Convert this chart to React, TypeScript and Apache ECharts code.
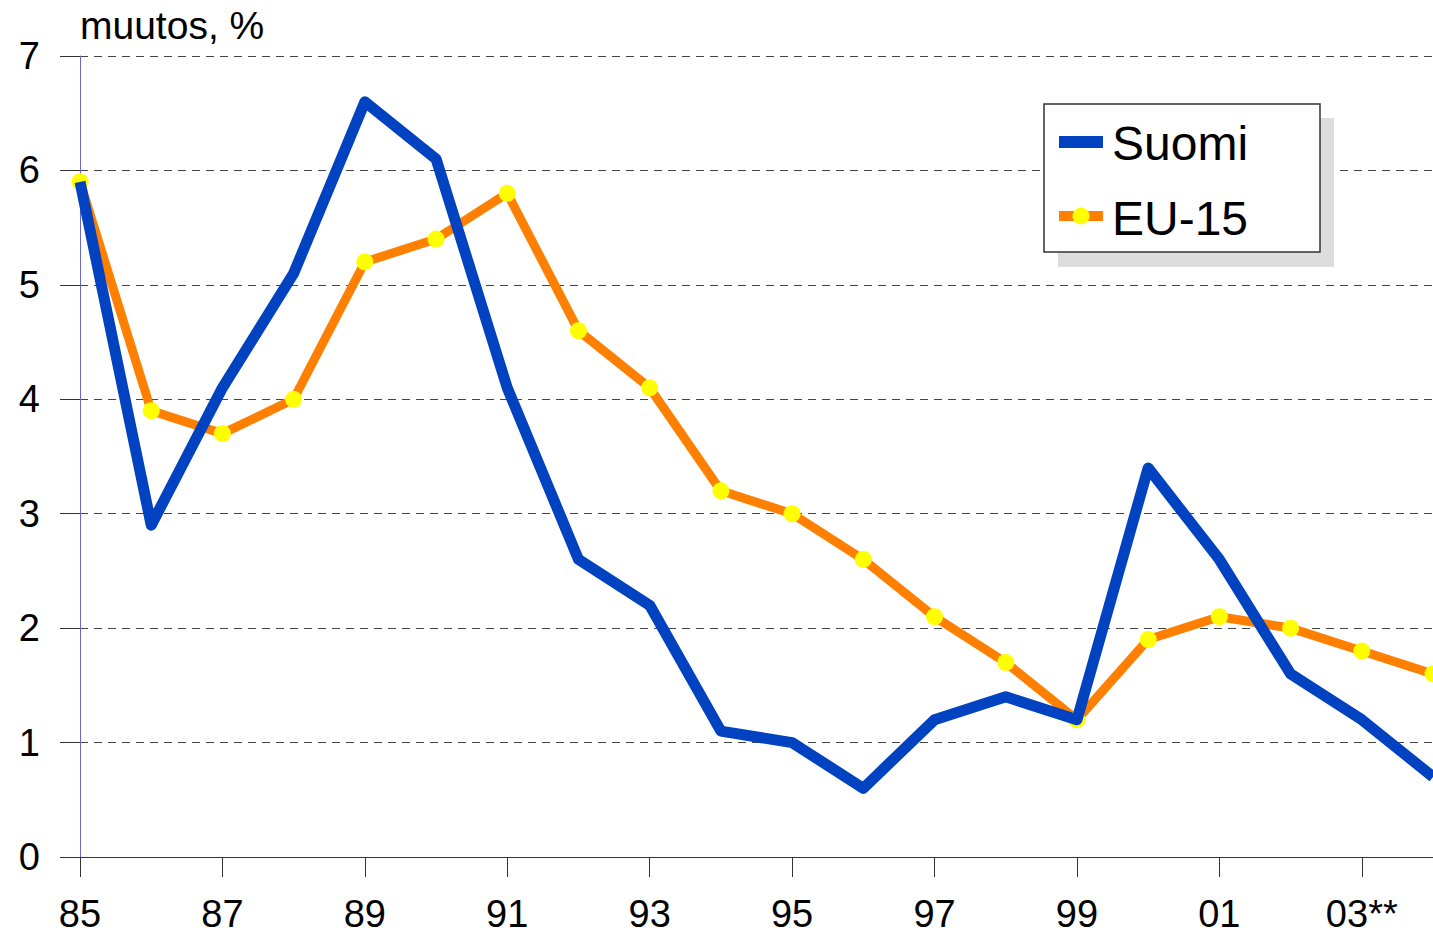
import React, { useEffect, useRef } from "react";
import * as echarts from "echarts";

const years = ["85", "86", "87", "88", "89", "90", "91", "92", "93", "94", "95", "96", "97", "98", "99", "00", "01", "02", "03**", "04"];
const suomi = [5.9, 2.9, 4.1, 5.1, 6.6, 6.1, 4.1, 2.6, 2.2, 1.1, 1.0, 0.6, 1.2, 1.4, 1.2, 3.4, 2.6, 1.6, 1.2, 0.7];
const eu15 = [5.9, 3.9, 3.7, 4.0, 5.2, 5.4, 5.8, 4.6, 4.1, 3.2, 3.0, 2.6, 2.1, 1.7, 1.2, 1.9, 2.1, 2.0, 1.8, 1.6];
const seriesNames = ["Suomi", "EU-15"];
const yTitle = "muutos, %";

const FONT = "'Liberation Sans', Arial, Helvetica, sans-serif";
const BLUE = "#0042c0";
const ORANGE = "#ff8000";
const YELLOW = "#ffff00";

export default function App() {
  const ref = useRef<HTMLDivElement>(null);
  useEffect(() => {
    if (!ref.current) return;
    const chart = echarts.init(ref.current, undefined, { renderer: "svg" });
    chart.setOption({
      animation: false,
      backgroundColor: "#ffffff",
      textStyle: { fontFamily: FONT },
      title: {
        text: yTitle,
        left: 80,
        top: 5,
        padding: 0,
        textStyle: { fontSize: 39, fontWeight: "normal", color: "#000", fontFamily: FONT, lineHeight: 40 },
      },
      grid: { left: 80, right: 0, top: 56, bottom: 78, containLabel: false },
      xAxis: {
        type: "category",
        data: years,
        boundaryGap: false,
        axisLine: { show: true, lineStyle: { color: "#333355", width: 1 } },
        axisTick: { show: true, interval: 1, length: 20, lineStyle: { color: "#333", width: 1 } },
        axisLabel: { interval: 1, fontSize: 38, color: "#000", fontFamily: FONT, margin: 38, lineHeight: 38 },
        splitLine: { show: false },
      },
      yAxis: {
        type: "value",
        min: 0,
        max: 7,
        interval: 1,
        axisLine: { show: true, lineStyle: { color: "#6666cc", width: 1 } },
        axisTick: { show: true, length: 20, lineStyle: { color: "#333", width: 1 } },
        axisLabel: { fontSize: 38, color: "#000", fontFamily: FONT, margin: 40 },
        splitLine: { show: true, lineStyle: { color: "#444", width: 1, type: [8, 6] } },
      },
      series: [
        {
          name: seriesNames[1],
          type: "line",
          data: eu15,
          symbol: "circle",
          symbolSize: 17,
          showAllSymbol: true,
          itemStyle: { color: YELLOW, borderWidth: 0 },
          lineStyle: { color: ORANGE, width: 9 },
          z: 2,
          clip: false,
        },
        {
          name: seriesNames[0],
          type: "line",
          data: suomi,
          symbol: "none",
          lineStyle: { color: BLUE, width: 11, join: "round" },
          itemStyle: { color: BLUE },
          z: 3,
          clip: false,
        },
      ],
      graphic: [
        { type: "rect", shape: { x: 1058, y: 118, width: 276, height: 149 }, style: { fill: "#dddddd" }, z: 10 },
        { type: "rect", shape: { x: 1044, y: 104, width: 276, height: 148 }, style: { fill: "#ffffff", stroke: "#333", lineWidth: 1.5 }, z: 11 },
        { type: "rect", shape: { x: 1059, y: 136, width: 44, height: 12 }, style: { fill: BLUE }, z: 12 },
        {
          type: "text",
          x: 1112,
          y: 143,
          style: { text: seriesNames[0], fontSize: 48, fontFamily: FONT, fill: "#000", verticalAlign: "middle", align: "left" },
          z: 12,
        },
        { type: "rect", shape: { x: 1059, y: 211, width: 44, height: 10 }, style: { fill: ORANGE }, z: 12 },
        { type: "circle", shape: { cx: 1081, cy: 216, r: 8.5 }, style: { fill: YELLOW }, z: 13 },
        {
          type: "text",
          x: 1112,
          y: 218,
          style: { text: seriesNames[1], fontSize: 48, fontFamily: FONT, fill: "#000", verticalAlign: "middle", align: "left" },
          z: 12,
        },
      ],
    });
    return () => chart.dispose();
  }, []);
  return <div ref={ref} style={{ position: "absolute", left: 0, top: 0, width: 1433, height: 935 }} />;
}
